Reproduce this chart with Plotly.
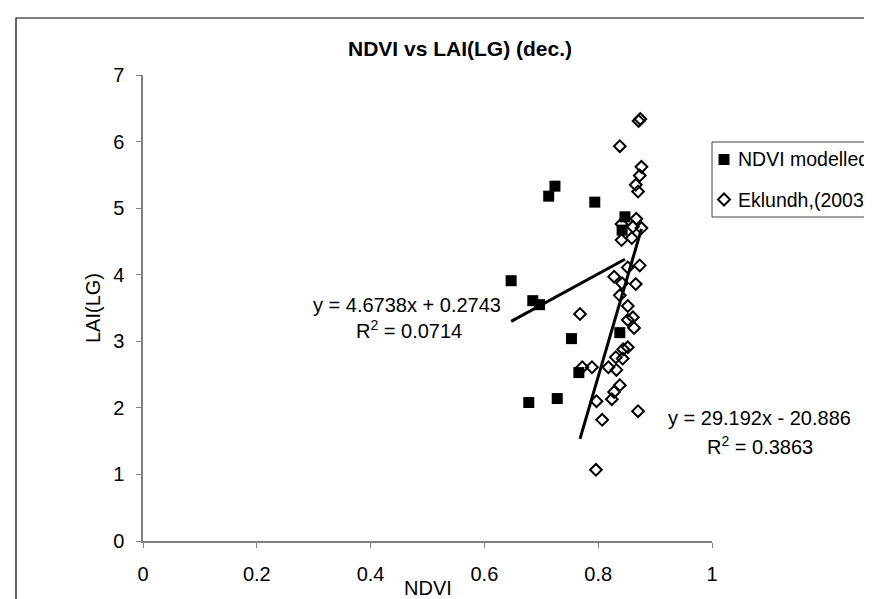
import plotly.graph_objects as go

# ---------------- data ----------------
ndvi_modelled = [0.724, 0.713, 0.794, 0.847, 0.842, 0.647, 0.685, 0.697,
                 0.753, 0.838, 0.766, 0.678, 0.728]
lai_modelled = [5.33, 5.18, 5.09, 4.87, 4.67, 3.91, 3.61, 3.55,
                3.04, 3.13, 2.53, 2.08, 2.14]

ndvi_eklundh = [0.871, 0.874, 0.838, 0.876, 0.873, 0.866, 0.870, 0.867,
                0.841, 0.861, 0.876, 0.841, 0.859, 0.873, 0.852, 0.828,
                0.842, 0.866, 0.838, 0.852, 0.768, 0.852, 0.861, 0.863,
                0.844, 0.852, 0.831, 0.843, 0.772, 0.789, 0.818, 0.832,
                0.838, 0.828, 0.824, 0.797, 0.870, 0.807, 0.796]
lai_eklundh = [6.31, 6.34, 5.93, 5.62, 5.49, 5.35, 5.25, 4.84,
               4.76, 4.72, 4.70, 4.52, 4.55, 4.14, 4.11, 3.97,
               3.87, 3.86, 3.69, 3.53, 3.41, 3.32, 3.36, 3.20,
               2.88, 2.91, 2.76, 2.74, 2.61, 2.61, 2.61, 2.57,
               2.34, 2.24, 2.13, 2.10, 1.95, 1.82, 1.07]

# trend-line equations printed on the chart (slope, intercept, R^2)
trend_modelled = (4.6738, 0.2743, 0.0714)
trend_eklundh = (29.192, -20.886, 0.3863)

series_names = ["NDVI modelled", "Eklundh,(2003)"]
x_ticks = [0, 0.2, 0.4, 0.6, 0.8, 1]
x_tick_labels = ["0", "0.2", "0.4", "0.6", "0.8", "1"]
y_ticks = [0, 1, 2, 3, 4, 5, 6, 7]

# ---------------- layout geometry ----------------
W, H = 872, 599
L, R, T, B = 135, 704, 67, 533          # plot-area pixel edges
FONT = "Liberation Sans, Arial, sans-serif"
FS = 20


def px_x(p):
    return (p - L) / (R - L)


def px_y(p):
    return (B - p) / (B - T)


fig = go.Figure()

fig.add_trace(go.Scatter(
    x=ndvi_modelled, y=lai_modelled, mode="markers", name=series_names[0],
    marker=dict(symbol="square", size=11, color="black"), showlegend=False))
fig.add_trace(go.Scatter(
    x=ndvi_eklundh, y=lai_eklundh, mode="markers", name=series_names[1],
    marker=dict(symbol="diamond-open", size=9, color="black",
                line=dict(width=2, color="black")), showlegend=False))

# linear trend lines over each series' x-range
for xs, (a, b, _) in ((ndvi_modelled, trend_modelled), (ndvi_eklundh, trend_eklundh)):
    x0, x1 = min(xs), max(xs)
    fig.add_trace(go.Scatter(x=[x0, x1], y=[a * x0 + b, a * x1 + b], mode="lines",
                             line=dict(color="black", width=3), showlegend=False,
                             hoverinfo="skip"))


def ann(text, px, py, size=FS, xanchor="center", angle=0, bold=False):
    if bold:
        text = "<b>" + text + "</b>"
    return dict(text=text, x=px_x(px), y=px_y(py), xref="paper", yref="paper",
                xanchor=xanchor, yanchor="middle", showarrow=False, textangle=angle,
                borderpad=0, font=dict(family=FONT, size=size, color="black"))


def eq_text(a, b):
    sign = "+" if b >= 0 else "-"
    return f"y = {a:g}x {sign} {abs(b):g}"


leg_mx = 716
leg_tx = 729
leg_rows = [151.5, 191.5]

annotations = [
    ann("NDVI vs LAI(LG) (dec.)", 452, 40, size=21, bold=True),
    ann(eq_text(*trend_modelled[:2]), 399, 297),
    ann(f"R<sup>2</sup> = {trend_modelled[2]:g}", 401, 321),
    ann(eq_text(*trend_eklundh[:2]), 751, 410),
    ann(f"R<sup>2</sup> = {trend_eklundh[2]:g}", 752, 437),
    ann(series_names[0], leg_tx, leg_rows[0], xanchor="left", size=19.5),
    ann(series_names[1], leg_tx, leg_rows[1], xanchor="left", size=19.5),
    ann("NDVI", 420, 580),
    ann("LAI(LG)", 85, 300, angle=-90),
]

# legend swatches drawn as shapes (outside the plot area)
sq = 5.5
dm = 6
shapes = [
    dict(type="rect", xref="paper", yref="paper", x0=px_x(8), y0=px_y(10),
         x1=px_x(900), y1=px_y(640), line=dict(color="black", width=1.2)),
    dict(type="rect", xref="paper", yref="paper", x0=px_x(704), y0=px_y(134),
         x1=px_x(900), y1=px_y(209), line=dict(color="#404040", width=1)),
    dict(type="rect", xref="paper", yref="paper",
         x0=px_x(leg_mx - sq), x1=px_x(leg_mx + sq),
         y0=px_y(leg_rows[0] + sq), y1=px_y(leg_rows[0] - sq),
         fillcolor="black", line=dict(width=0)),
    dict(type="path", xref="paper", yref="paper",
         path=(f"M {px_x(leg_mx)},{px_y(leg_rows[1] - dm)} "
               f"L {px_x(leg_mx + dm)},{px_y(leg_rows[1])} "
               f"L {px_x(leg_mx)},{px_y(leg_rows[1] + dm)} "
               f"L {px_x(leg_mx - dm)},{px_y(leg_rows[1])} Z"),
         line=dict(color="black", width=2), fillcolor="white"),
]

axis_common = dict(showline=True, linecolor="#808080", linewidth=1.5, ticks="outside",
                   ticklen=5, tickcolor="#808080", tickwidth=1, showgrid=False,
                   zeroline=False, tickfont=dict(family=FONT, size=FS, color="black"))

fig.update_layout(
    width=W, height=H, margin=dict(l=L, r=W - R, t=T, b=H - B),
    paper_bgcolor="white", plot_bgcolor="white",
    xaxis=dict(range=[0, 1], tickvals=x_ticks, ticktext=x_tick_labels,
               ticklabelstandoff=9, **axis_common),
    yaxis=dict(range=[0, 7], tickvals=y_ticks, ticklabelstandoff=8, **axis_common),
    annotations=annotations, shapes=shapes, showlegend=False,
)

fig.write_html("out.html")
